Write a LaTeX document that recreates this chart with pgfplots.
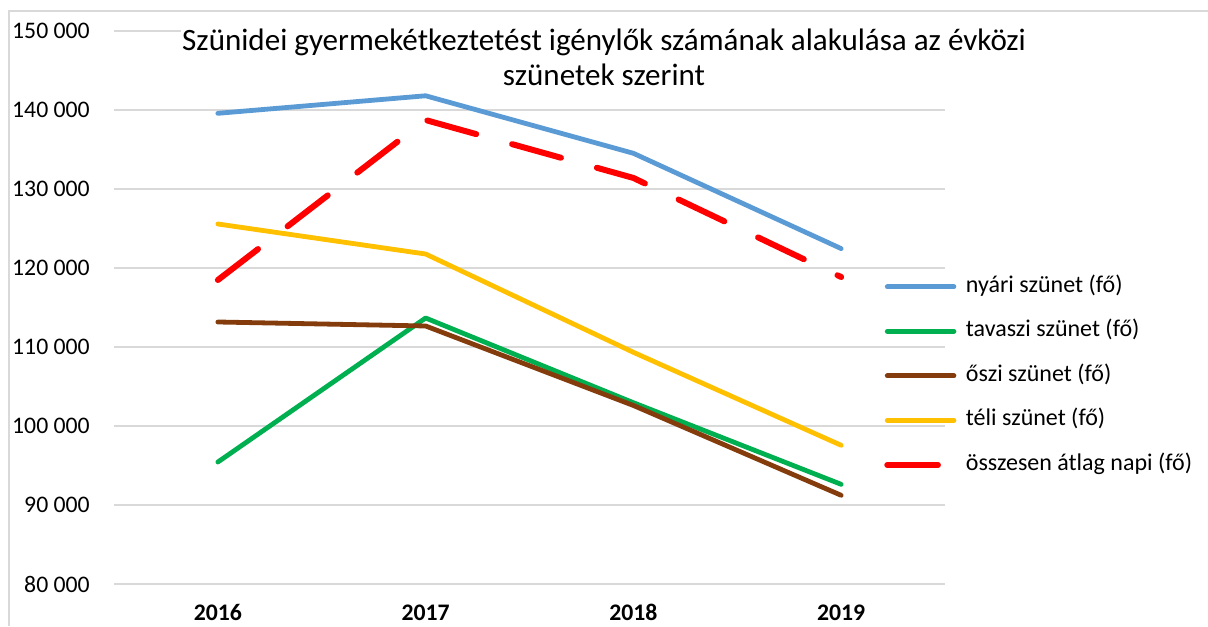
\documentclass[border=0pt]{standalone}
\usepackage{fontspec}
\setmainfont{Carlito}
\usepackage{pgfplots}
\pgfplotsset{compat=1.18}
\definecolor{cnyari}{HTML}{5B9BD5}
\definecolor{ctavaszi}{HTML}{00B050}
\definecolor{coszi}{HTML}{843C0C}
\definecolor{cteli}{HTML}{FFC000}
\definecolor{cossz}{HTML}{FF0000}
\definecolor{cgrid}{HTML}{D9D9D9}
\begin{document}
\begin{tikzpicture}
\useasboundingbox (0,0) rectangle (906pt,469.5pt);
\fill[white] (0,0) rectangle (906pt,469.5pt);
\draw[cgrid, line width=0.9pt] (6.75pt,0) -- (6.75pt,461.25pt) -- (906pt,461.25pt);
\begin{axis}[
  at={(85.5pt,31.5pt)}, anchor=south west,
  scale only axis, width=623.25pt, height=414.75pt,
  xmin=-0.5, xmax=3.5, ymin=80000, ymax=150000,
  xtick={0,1,2,3}, xticklabels={2016,2017,2018,2019},
  ytick={80000,90000,100000,110000,120000,130000,140000,150000},
  yticklabels={80 000,90 000,100 000,110 000,120 000,130 000,140 000,150 000},
  scaled y ticks=false,
  axis line style={draw=none},
  major tick length=0pt,
  ymajorgrids, grid style={cgrid, line width=1.3pt},
  yticklabel style={font=\fontsize{17.8}{21}\selectfont, inner sep=0pt, anchor=east},
  yticklabel shift=18pt,
  xticklabel style={font=\fontsize{17.8}{21}\selectfont\bfseries, inner sep=0pt, anchor=north, text height=11.5pt, text depth=0pt},
  xticklabel shift=16pt,
  legend cell align=left,
  legend image code/.code={\draw[#1] (0pt,0pt) -- (50pt,0pt);},
  legend style={at={(0.9266,0.3764)}, anchor=west, draw=none, fill=none,
    inner sep=0pt, row sep=17.4pt,
    font=\fontsize{18}{21}\selectfont,
    nodes={text height=12pt, text depth=4pt, inner sep=0pt},
    /tikz/every odd column/.append style={column sep=6.75pt}},
]
\addplot[cnyari, line width=3.6pt, line cap=round, line join=round] coordinates {(0,139580) (1,141800) (2,134520) (3,122460)};
\addlegendentry{nyári szünet (fő)}
\addplot[ctavaszi, line width=3.6pt, line cap=round, line join=round] coordinates {(0,95440) (1,113670) (2,102950) (3,92620)};
\addlegendentry{tavaszi szünet (fő)}
\addplot[coszi, line width=3.6pt, line cap=round, line join=round] coordinates {(0,113165) (1,112660) (2,102600) (3,91230)};
\addlegendentry{őszi szünet (fő)}
\addplot[cteli, line width=3.6pt, line cap=round, line join=round] coordinates {(0,125570) (1,121770) (2,109330) (3,97560)};
\addlegendentry{téli szünet (fő)}
\addplot[cossz, line width=4.5pt, line cap=round, line join=round, dash pattern=on 38pt off 28pt] coordinates {(0,118480) (1,138730) (2,131400) (3,118860)};
\addlegendentry{összesen átlag napi (fő)}
\end{axis}
\node[fill=white, inner sep=1pt, align=center, font=\fontsize{23.3}{26.5}\selectfont] at (453pt,426.4pt) {Szünidei gyermekétkeztetést igénylők számának alakulása az évközi\\szünetek szerint};
\end{tikzpicture}
\end{document}
